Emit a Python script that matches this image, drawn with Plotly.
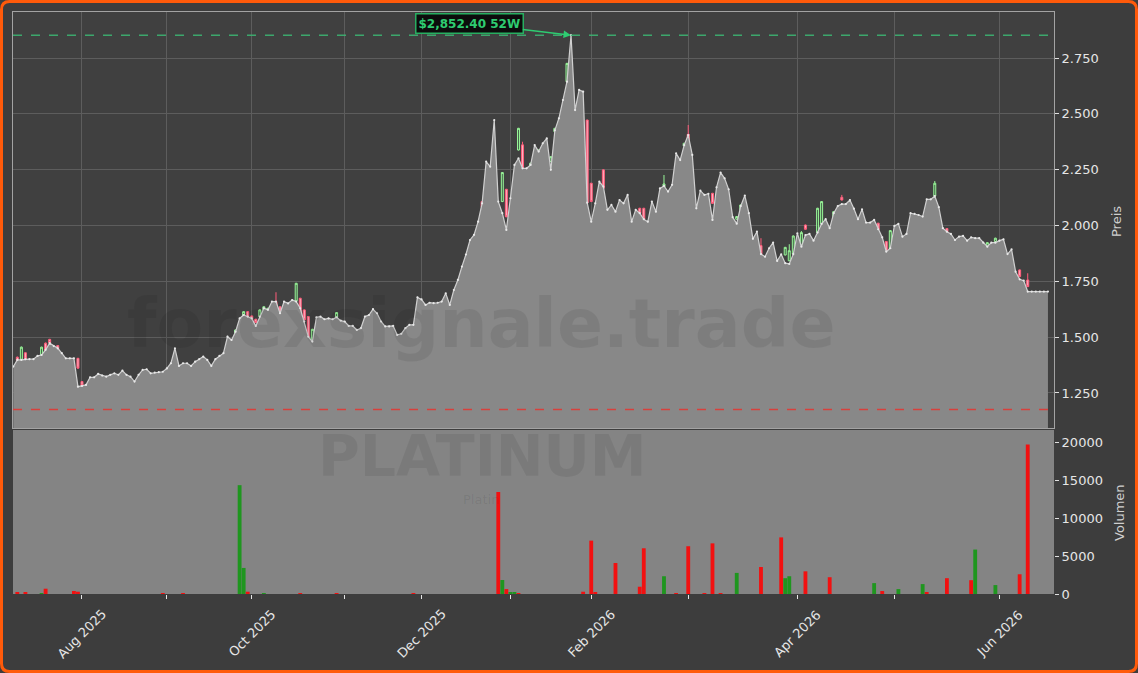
import plotly.graph_objects as go

# ---------------- data ----------------
close = [
    1368, 1398, 1398, 1401, 1401, 1401, 1416, 1420, 1443, 1473,
    1460, 1450, 1428, 1405, 1405, 1405, 1278, 1281, 1286, 1320,
    1320, 1335, 1328, 1323, 1331, 1338, 1331, 1350, 1331, 1323,
    1301, 1331, 1353, 1356, 1338, 1341, 1343, 1345, 1360, 1383,
    1450, 1371, 1383, 1383, 1371, 1390, 1401, 1413, 1398, 1371,
    1401, 1416, 1428, 1502, 1487, 1524, 1584, 1599, 1592, 1584,
    1550, 1592, 1629, 1622, 1659, 1659, 1607, 1659, 1651, 1666,
    1659, 1629, 1570, 1502, 1480, 1589, 1592, 1580, 1584, 1580,
    1589, 1574, 1570, 1550, 1550, 1532, 1540, 1592, 1599, 1625,
    1607, 1570, 1548, 1548, 1550, 1510, 1515, 1540, 1555, 1555,
    1678, 1669, 1644, 1654, 1652, 1654, 1659, 1696, 1644, 1711,
    1756, 1816, 1870, 1935, 1958, 2017, 2099, 2286, 2263, 2472,
    2107, 2055, 1980, 2122, 2271, 2301, 2256, 2256, 2271, 2360,
    2331, 2368, 2390, 2249, 2426, 2480, 2562, 2644, 2852, 2517,
    2607, 2599, 2102, 2017, 2099, 2196, 2174, 2070, 2092, 2062,
    2114, 2099, 2137, 2017, 2070, 2055, 2028, 2017, 2107, 2062,
    2166, 2177, 2152, 2182, 2323, 2293, 2360, 2405, 2316, 2077,
    2156, 2137, 2142, 2025, 2171, 2237, 2211, 2162, 2037, 2008,
    2087, 2134, 2055, 1940, 1972, 1872, 1860, 1898, 1923, 1841,
    1871, 1831, 1828, 1872, 1965, 1905, 1957, 1962, 1932, 1968,
    2007, 2028, 1988, 2055, 2087, 2096, 2096, 2114, 2075, 2028,
    2072, 2013, 2013, 2025, 1983, 1947, 1883, 1898, 1998, 2007,
    1950, 1962, 2055, 2052, 2047, 2040, 2117, 2117, 2132, 2082,
    1988, 1972, 1962, 1935, 1950, 1953, 1932, 1947, 1943, 1943,
    1923, 1905, 1923, 1923, 1932, 1938, 1872, 1893, 1793, 1759,
    1753, 1704, 1704, 1704, 1704, 1704, 1704,
]
day_index = list(range(len(close)))

candle_idx = [1, 2, 3, 7, 8, 9, 11, 16, 17, 55, 57, 58, 59, 60, 61, 62, 63, 65, 66,
              70, 71, 72, 73, 74, 80, 116, 121, 122, 125, 126, 128, 130, 133, 134,
              137, 142, 143, 146, 155, 156, 161, 165, 166, 167, 173, 179, 180, 183,
              185, 191, 192, 193, 195, 196, 199, 200, 203, 205, 214, 216, 217, 228,
              231, 241, 243, 249, 251]
candle_open = [1410, 1398, 1430, 1420, 1473, 1490, 1462, 1405, 1301, 1517, 1592, 1614,
               1595, 1580, 1592, 1622, 1614, 1659, 1636, 1662, 1674, 1622, 1592, 1480,
               1589, 2107, 2107, 2162, 2338, 2361, 2261, 2323, 2286, 2420, 2644, 2472,
               2189, 2249, 2077, 2077, 2171, 2293, 2356, 2408, 2144, 2028, 2070, 1908,
               1910, 1868, 1842, 1872, 1905, 2002, 1968, 2007, 2037, 2126, 2010, 1928,
               1893, 2132, 1986, 1902, 1928, 1801, 1756]
candle_high = [1413, 1458, 1432, 1457, 1476, 1492, 1464, 1407, 1303, 1534, 1616, 1616,
               1597, 1582, 1624, 1638, 1631, 1701, 1638, 1743, 1676, 1624, 1594, 1537,
               1612, 2109, 2239, 2164, 2437, 2375, 2281, 2340, 2310, 2437, 2728, 2474,
               2191, 2251, 2079, 2079, 2226, 2295, 2370, 2450, 2146, 2042, 2094, 1945,
               1943, 1904, 1916, 1955, 1975, 2004, 2079, 2109, 2064, 2137, 2012, 1930,
               1979, 2199, 1988, 1925, 1945, 1803, 1786]
candle_low = [1393, 1396, 1399, 1418, 1437, 1473, 1433, 1359, 1279, 1515, 1590, 1575,
              1567, 1563, 1590, 1620, 1612, 1634, 1597, 1660, 1597, 1575, 1500, 1478,
              1587, 2082, 2105, 2037, 2336, 2254, 2259, 2321, 2284, 2418, 2642, 2100,
              2105, 2165, 2053, 2026, 2169, 2232, 2354, 2381, 2097, 2026, 2068, 1906,
              1870, 1866, 1840, 1870, 1903, 1981, 1966, 2005, 2035, 2112, 1981, 1881,
              1891, 2130, 1969, 1900, 1926, 1769, 1724]
candle_close = [1395, 1455, 1401, 1455, 1439, 1475, 1435, 1361, 1281, 1532, 1614, 1577,
                1569, 1565, 1622, 1636, 1629, 1636, 1599, 1741, 1599, 1577, 1502, 1535,
                1610, 2084, 2237, 2039, 2435, 2256, 2279, 2338, 2308, 2435, 2726, 2102,
                2107, 2167, 2055, 2028, 2186, 2234, 2368, 2383, 2099, 2040, 2092, 1943,
                1872, 1902, 1887, 1953, 1968, 1983, 2077, 2107, 2062, 2114, 1983, 1883,
                1977, 2189, 1971, 1923, 1943, 1771, 1726]

vol_idx = [1, 3, 7, 8, 15, 16, 37, 42, 56, 57, 58, 62, 71, 80, 99, 120, 121, 122, 123,
           124, 125, 141, 143, 144, 149, 155, 156, 161, 164, 167, 171, 173, 175, 179,
           185, 190, 191, 192, 196, 202, 213, 215, 219, 225, 226, 231, 237, 238, 243,
           249, 251]
vol_val = [150, 150, 100, 700, 400, 300, 100, 100, 14400, 3450, 300, 120, 100, 120, 100,
           13500, 1850, 650, 250, 250, 120, 300, 7060, 150, 4100, 960, 6050, 2350, 120,
           6320, 120, 6700, 120, 2790, 3570, 7490, 2090, 2350, 3000, 2220, 1440, 390,
           650, 1310, 150, 2090, 1830, 5880, 1180, 2610, 19780]
vol_dir = ["d", "d", "u", "d", "d", "d", "d", "d", "u", "u", "d", "u", "d", "d", "d",
           "d", "u", "d", "u", "u", "d", "d", "d", "d", "d", "d", "d", "u", "d", "d",
           "d", "d", "d", "u", "d", "d", "u", "u", "d", "d", "u", "d", "u", "u", "d",
           "d", "d", "u", "u", "d", "d"]

tick_pos = [17, 38, 59, 82, 101, 123, 143, 167, 194, 218, 244]
tick_text = ["Aug 2025", "", "Oct 2025", "", "Dec 2025", "", "Feb 2026", "",
             "Apr 2026", "", "Jun 2026"]
price_ticks = [1250, 1500, 1750, 2000, 2250, 2500, 2750]
vol_ticks = [0, 5000, 10000, 15000, 20000]
high_52w = 2852.40
low_52w = 1176
peak_idx = 138

# ---------------- geometry helpers (pixel -> paper) ----------------
W, H = 1138, 673
ML, MR, MT, MB = 13, 84, 12, 79
PW, PH = W - ML - MR, H - MT - MB


def px(xp):
    return (xp - ML) / PW


def py(yp):
    return (H - MB - yp) / PH


FONT = "DejaVu Sans"
fig = go.Figure()

fig.add_trace(go.Scatter(
    x=day_index, y=close, mode="lines+markers", fill="tozeroy",
    fillcolor="#888888", line=dict(color="#d0d0d0", width=1.2),
    marker=dict(size=2.2, color="#e8e8e8"), xaxis="x", yaxis="y",
    showlegend=False, hoverinfo="skip"))

fig.add_trace(go.Candlestick(
    x=candle_idx, open=candle_open, high=candle_high, low=candle_low,
    close=candle_close, xaxis="x", yaxis="y", whiskerwidth=0,
    increasing=dict(line=dict(color="#98f598", width=1), fillcolor="rgba(70,130,80,0.5)"),
    decreasing=dict(line=dict(color="#ff5c7a", width=1), fillcolor="#ffb3c1"),
    showlegend=False, hoverinfo="skip"))

fig.add_trace(go.Bar(
    x=vol_idx, y=vol_val, width=0.95,
    marker=dict(color=["#1f961f" if d == "u" else "#f21010" for d in vol_dir], line=dict(width=0)),
    xaxis="x2", yaxis="y2", showlegend=False, hoverinfo="skip"))

grid = "#5d5d5d"
fig.update_layout(
    width=W, height=H, margin=dict(l=ML, r=MR, t=MT, b=MB),
    paper_bgcolor="#3d3d3d", plot_bgcolor="#404040", separators=",.",
    font=dict(family=FONT, size=13, color="#e6e6e6"),
    showlegend=False,
    xaxis=dict(domain=[0, 1], anchor="y", range=[-0.07, 257.5], tickvals=tick_pos,
               showticklabels=False, ticks="", showgrid=True, gridcolor=grid,
               showline=True, mirror=True, linecolor="#a3a3a3", zeroline=False,
               rangeslider=dict(visible=False)),
    yaxis=dict(domain=[py(428), 1], anchor="x", range=[1093, 2956], side="right",
               tickvals=price_ticks, tickformat=",d", ticks="outside", ticklen=4,
               tickcolor="#e0e0e0", showgrid=True, gridcolor=grid, showline=True,
               mirror=True, linecolor="#a3a3a3", zeroline=False),
    xaxis2=dict(domain=[0, 1], anchor="y2", matches="x", tickvals=tick_pos,
                showticklabels=False, ticks="outside", ticklen=4, tickcolor="#e6e6e6",
                showgrid=False, showline=False, zeroline=False),
    yaxis2=dict(domain=[0, py(430)], anchor="x2", range=[0, 21700], side="right",
                tickvals=vol_ticks, tickformat="d", ticks="outside", ticklen=4,
                tickcolor="#e0e0e0", showgrid=False, zeroline=False, showline=False),
)

shapes = [
    dict(type="rect", xref="x2 domain", yref="y2 domain", x0=0, x1=1, y0=0, y1=1,
         fillcolor="#848484", line=dict(width=0), layer="below"),
    dict(type="line", xref="x domain", yref="y", x0=0, x1=1, y0=high_52w, y1=high_52w,
         line=dict(color="rgba(60,179,113,0.9)", width=1.5, dash="dash"), layer="above"),
    dict(type="line", xref="x domain", yref="y", x0=0, x1=1, y0=low_52w, y1=low_52w,
         line=dict(color="#d8403c", width=1.5, dash="dash"), layer="above"),
]
# rounded orange frame around the whole figure
r = 8
x0p, x1p, y0p, y1p = 1.5, W - 1.5, 1.5, H - 1.5
path = (f"M {px(x0p + r)},{py(y0p)} L {px(x1p - r)},{py(y0p)} "
        f"Q {px(x1p)},{py(y0p)} {px(x1p)},{py(y0p + r)} L {px(x1p)},{py(y1p - r)} "
        f"Q {px(x1p)},{py(y1p)} {px(x1p - r)},{py(y1p)} L {px(x0p + r)},{py(y1p)} "
        f"Q {px(x0p)},{py(y1p)} {px(x0p)},{py(y1p - r)} L {px(x0p)},{py(y0p + r)} "
        f"Q {px(x0p)},{py(y0p)} {px(x0p + r)},{py(y0p)} Z")
shapes.append(dict(type="path", xref="paper", yref="paper", path=path,
                   line=dict(color="#ff5a0a", width=3), fillcolor="rgba(0,0,0,0)"))
fig.update_layout(shapes=shapes)

ann = []
wm = "rgba(0,0,0,0.075)"
ann.append(dict(text="<b>forexsignale.trade</b>", xref="paper", yref="paper",
                x=px(481), y=py(323), showarrow=False, xanchor="center", yanchor="middle",
                font=dict(family=FONT, size=68, color=wm)))
ann.append(dict(text="<b>PLATINUM</b>", xref="paper", yref="paper",
                x=px(482), y=py(456), showarrow=False, xanchor="center", yanchor="middle",
                font=dict(family=FONT, size=57, color=wm)))
ann.append(dict(text="Platin", xref="paper", yref="paper",
                x=px(481), y=py(499), showarrow=False, xanchor="center", yanchor="middle",
                font=dict(family=FONT, size=13, color=wm)))
for tp, tt in zip(tick_pos, tick_text):
    if tt:
        ann.append(dict(text=tt, xref="x", yref="paper", x=tp, y=py(633),
                        showarrow=False, textangle=-45, xanchor="center", yanchor="middle",
                        font=dict(family=FONT, size=13, color="#e6e6e6")))
ann.append(dict(text="Preis", xref="paper", yref="paper", x=px(1116), y=py(222),
                showarrow=False, textangle=-90, xanchor="center", yanchor="middle",
                font=dict(family=FONT, size=13, color="#cfcfcf")))
ann.append(dict(text="Volumen", xref="paper", yref="paper", x=px(1119), y=py(513),
                showarrow=False, textangle=-90, xanchor="center", yanchor="middle",
                font=dict(family=FONT, size=13, color="#cfcfcf")))
ann.append(dict(text="<b>$2,852.40 52W</b>", xref="x", yref="y", x=peak_idx, y=high_52w,
                showarrow=True, ax=-102, ay=-12, arrowhead=2, arrowsize=1, arrowwidth=1.5,
                arrowcolor="#2ecc71", bgcolor="#0c0c0c", bordercolor="#27ae60",
                borderwidth=1.5, borderpad=2,
                font=dict(family=FONT, size=12, color="#2ecc71")))
fig.update_layout(annotations=ann)

fig.write_html("out.html", config={"displayModeBar": False},
               post_script="document.body.style.margin='0px';document.body.style.padding='0px';")
